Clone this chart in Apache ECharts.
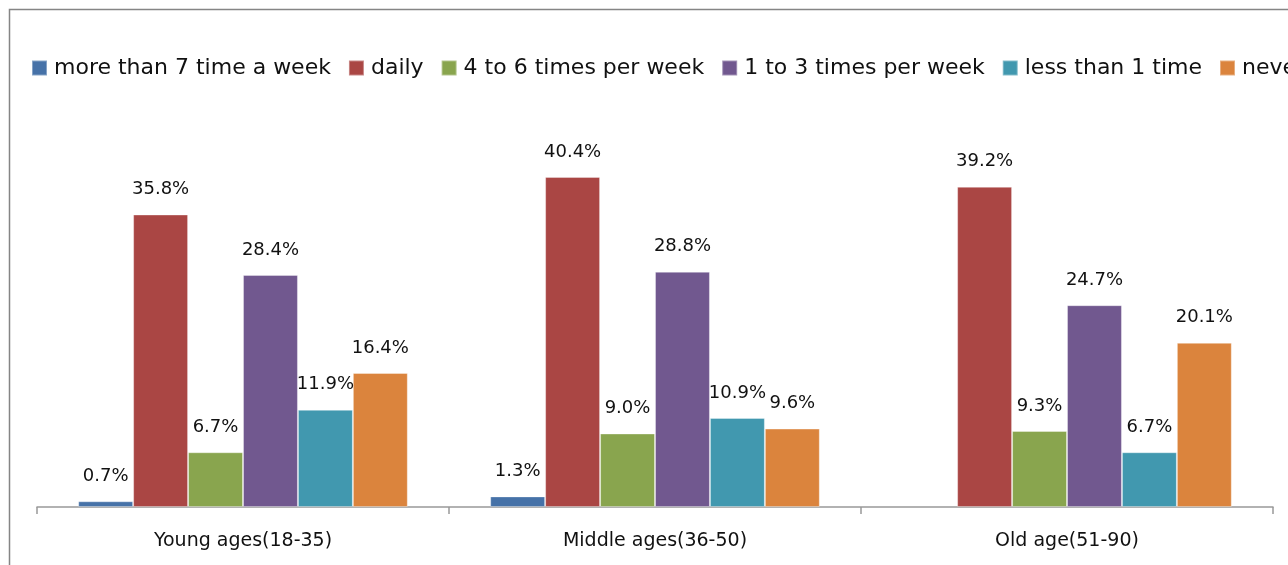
<!DOCTYPE html>
<html>
<head>
<meta charset="utf-8">
<script src="https://cdn.jsdelivr.net/npm/echarts@6/dist/echarts.min.js"></script>
<style>
  html, body { margin: 0; padding: 0; background: #fff; }
  #chart { width: 1288px; height: 565px; }
</style>
</head>
<body>
<div id="chart"></div>
<script>
// categories and series (percent)
const categories = ['Young ages(18-35)', 'Middle ages(36-50)', 'Old age(51-90)'];
const seriesNames = ['more than 7 time a week', 'daily', '4 to 6 times per week', '1 to 3 times per week', 'less than 1 time', 'never'];
const moreThan7 = [0.7, 1.3, null];
const daily = [35.8, 40.4, 39.2];
const fourToSix = [6.7, 9.0, 9.3];
const oneToThree = [28.4, 28.8, 24.7];
const lessThan1 = [11.9, 10.9, 6.7];
const never = [16.4, 9.6, 20.1];
const colors = ['#4672A8', '#AA4644', '#89A54E', '#71588F', '#4198AF', '#DB843D'];

const fontFamily = '"DejaVu Sans", "Noto Sans", sans-serif';
const allData = [moreThan7, daily, fourToSix, oneToThree, lessThan1, never];

const chart = echarts.init(document.getElementById('chart'));
const option = {
  animation: false,
  textStyle: { fontFamily: fontFamily },
  color: colors,
  graphic: [{
    type: 'rect',
    shape: { x: 9.5, y: 9.5, width: 1400, height: 1000 },
    style: { fill: 'none', stroke: '#858585', lineWidth: 1.5 },
    silent: true
  }],
  legend: {
    left: 26,
    top: 52,
    width: 3000,
    itemWidth: 15,
    itemHeight: 15,
    itemGap: 17,
    icon: 'rect',
    textStyle: { fontSize: 22, color: '#111', padding: [0, 0, 0, 2] },
    data: seriesNames
  },
  grid: { left: 37, right: 15, top: 98.5, bottom: 58 },
  xAxis: {
    type: 'category',
    data: categories,
    axisLine: { lineStyle: { color: '#999', width: 1.5 } },
    axisTick: { show: true, alignWithLabel: false, length: 7, lineStyle: { color: '#999', width: 1.5 } },
    axisLabel: { fontSize: 19, color: '#111', margin: 25 }
  },
  yAxis: {
    type: 'value',
    min: 0,
    max: 50,
    show: false,
    splitLine: { show: false }
  },
  series: seriesNames.map((name, i) => ({
    name: name,
    type: 'bar',
    data: allData[i],
    barGap: 0,
    barCategoryGap: '20%',
    itemStyle: { color: colors[i], borderColor: 'rgba(255,255,255,0.35)', borderWidth: 1 },
    label: {
      show: true,
      position: 'top',
      distance: 16,
      fontSize: 18,
      color: '#111',
      formatter: p => p.value.toFixed(1) + '%'
    }
  }))
};
chart.setOption(option);
window.addEventListener('resize', () => chart.resize());
</script>
</body>
</html>
